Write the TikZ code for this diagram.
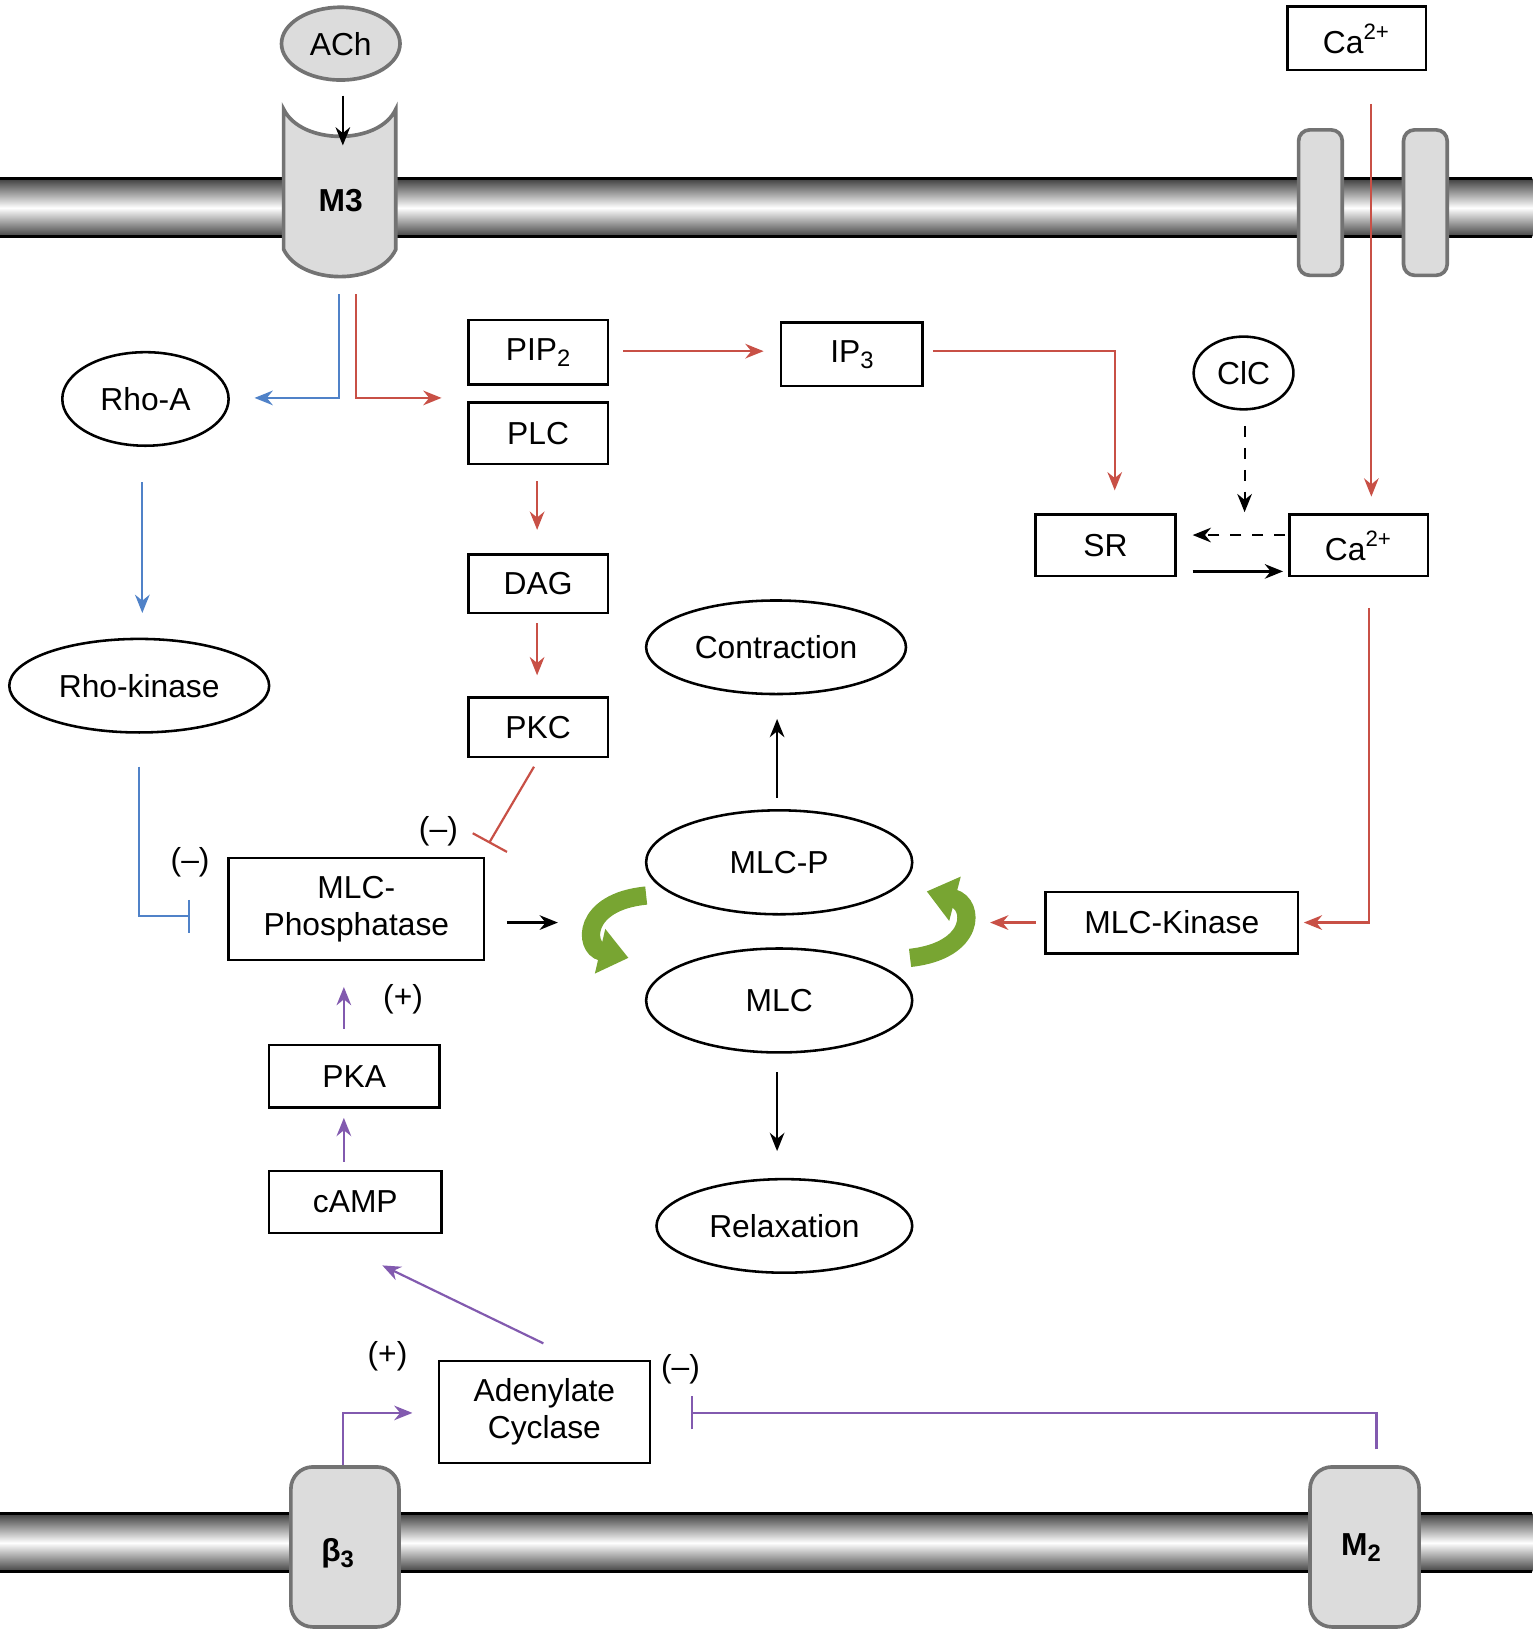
\documentclass[tikz,border=0pt]{standalone}
\usepackage{fontspec}
\setmainfont{Liberation Sans}
\usetikzlibrary{arrows.meta,shapes.geometric}
\definecolor{rd}{RGB}{200,80,70}
\definecolor{bl}{RGB}{80,130,200}
\definecolor{pu}{RGB}{130,90,175}
\definecolor{gr}{RGB}{120,165,50}
\definecolor{lg}{RGB}{220,220,220}
\newcommand{\sbs}[1]{\raisebox{-0.35ex}{\fontsize{6.5}{7}\selectfont #1}}
\begin{document}
\begin{tikzpicture}[x=0.01cm,y=-0.01cm,
  every node/.style={font=\fontsize{8.7}{10}\selectfont},
  bx/.style={draw,line width=0.7pt,rectangle,inner sep=0pt},
  el/.style={draw,line width=0.7pt,ellipse,inner sep=0pt},
  ar/.style={line width=0.6pt,-{Stealth[length=5pt,width=4pt]}},
  inh/.style={line width=0.6pt,-{Bar[width=9pt]}},
  lab/.style={font=\fontsize{8.7}{10}\selectfont}]
\useasboundingbox (0,0) rectangle (1475,1568);
% membranes
\foreach \y in {172,1457}{
  \shade[top color=black!75,bottom color=black!75,middle color=white] (0,\y) rectangle (1475,\y+56);
  \draw[line width=0.8pt] (0,\y)--(1475,\y) (0,\y+56)--(1475,\y+56);
}
% M3
\draw[fill=lg,draw=black!55,line width=1pt] (273,105) .. controls (290,140) and (365,140) .. (381,105) -- (381,240) .. controls (365,275) and (290,275) .. (273,240) -- cycle;
\node[font=\fontsize{8.7}{10}\selectfont\bfseries] (m3) at (328,193) {M3};
\node[el,fill=lg,draw=black!55,line width=1pt,minimum width=1.14cm,minimum height=0.7cm] (ach) at (328,42) {ACh};
\coordinate (achs) at (330,92); \coordinate (ache) at (330,140);
\draw[ar] (achs)--(ache);
% Ca channel
\draw[fill=lg,draw=black!55,line width=1pt,rounded corners=3pt] (1250,125) rectangle (1292,265);
\draw[fill=lg,draw=black!55,line width=1pt,rounded corners=3pt] (1351,125) rectangle (1393,265);
\node[bx,minimum width=1.33cm,minimum height=0.61cm] (catop) at (1306,37) {Ca\textsuperscript{2+}};
% beta3, M2
\draw[fill=lg,draw=black!55,line width=1pt,rounded corners=6pt] (280,1412) rectangle (384,1566);
\node[font=\fontsize{8.7}{10}\selectfont\bfseries] (b3) at (325,1495) {β\sbs{\bfseries 3}};
\draw[fill=lg,draw=black!55,line width=1pt,rounded corners=6pt] (1261,1412) rectangle (1366,1566);
\node[font=\fontsize{8.7}{10}\selectfont\bfseries] (m2) at (1310,1490) {M\sbs{\bfseries 2}};
% boxes
\node[bx,minimum width=1.34cm,minimum height=0.62cm] (pip2) at (518,339) {PIP\sbs{2}};
\node[bx,minimum width=1.36cm,minimum height=0.61cm] (ip3) at (820,341) {IP\sbs{3}};
\node[bx,minimum width=1.34cm,minimum height=0.59cm] (plc) at (518,417) {PLC};
\node[bx,minimum width=1.34cm,minimum height=0.56cm] (dag) at (518,562) {DAG};
\node[bx,minimum width=1.34cm,minimum height=0.57cm] (pkc) at (518,700) {PKC};
\node[bx,minimum width=1.35cm,minimum height=0.59cm] (sr) at (1064,525) {SR};
\node[bx,minimum width=1.33cm,minimum height=0.59cm] (ca) at (1308,525) {Ca\textsuperscript{2+}};
\node[bx,minimum width=2.46cm,minimum height=0.98cm,align=center] (mlcp) at (343,875) {MLC-\\Phosphatase};
\node[bx,minimum width=2.43cm,minimum height=0.59cm] (mlck) at (1128,888) {MLC-Kinase};
\node[bx,minimum width=1.64cm,minimum height=0.60cm] (pka) at (341,1036) {PKA};
\node[bx,minimum width=1.66cm,minimum height=0.60cm] (camp) at (342,1157) {cAMP};
\node[bx,minimum width=2.03cm,minimum height=0.98cm,align=center] (ac) at (524,1359) {Adenylate\\Cyclase};
% ellipses
\node[el,minimum width=1.6cm,minimum height=0.9cm] (rhoa) at (140,384) {Rho-A};
\node[el,minimum width=2.5cm,minimum height=0.9cm] (rhok) at (134,660) {Rho-kinase};
\node[el,minimum width=0.96cm,minimum height=0.7cm] (cic) at (1197,359) {ClC};
\node[el,minimum width=2.5cm,minimum height=0.9cm] (con) at (747,623) {Contraction};
\node[el,minimum width=2.56cm,minimum height=1.0cm] (mlcP) at (750,830) {MLC-P};
\node[el,minimum width=2.56cm,minimum height=1.0cm] (mlc) at (750,963) {MLC};
\node[el,minimum width=2.46cm,minimum height=0.9cm] (rel) at (755,1180) {Relaxation};
% red arrows
\draw[ar,rd] (343,283)--(343,383)--(425,383);
\draw[ar,bl] (326,283)--(326,383)--(245,383);
\draw[ar,rd] (600,338)--(735,338);
\draw[ar,rd] (898,338)--(1073,338)--(1073,472);
\draw[ar,rd] (1320,100)--(1320,478);
\draw[ar,rd] (517,463)--(517,510);
\draw[ar,rd] (517,600)--(517,650);
\draw[ar,rd] (1318,585)--(1318,888)--(1255,888);
\draw[ar,rd] (997,888)--(953,888);
\draw[line width=0.6pt,rd] (514,738)--(471,811);
\draw[line width=0.6pt,rd] (455,802)--(488,820);
% black
\draw[ar,dashed] (1198,410)--(1198,493);
\draw[ar,dashed] (1237,515)--(1148,515);
\draw[ar] (1148,550)--(1235,550);
\draw[ar] (488,888)--(537,888);
\draw[ar] (748,768)--(748,692);
\draw[ar] (748,1032)--(748,1108);
% blue
\draw[ar,bl] (137,464)--(137,590);
\draw[inh,bl] (134,738)--(134,882)--(183,882);
% purple
\draw[ar,pu] (331,990)--(331,950);
\draw[ar,pu] (331,1118)--(331,1076);
\draw[ar,pu] (523,1293)--(368,1218);
\draw[ar,pu] (330,1410)--(330,1360)--(397,1360);
\draw[inh,pu] (1325,1395)--(1325,1360)--(665,1360);
% labels
\node[lab] (l1) at (183,830) {(--)};
\node[lab] (l2) at (422,800) {(--)};
\node[lab] (l3) at (655,1318) {(--)};
\node[lab] (l4) at (388,962) {(+)};
\node[lab] (l5) at (373,1305) {(+)};
% green
\draw[gr,line width=5pt,-{Triangle[length=8pt,width=12pt]}] (622,862) .. controls (560,868) and (562,912) .. (605,922);
\draw[gr,line width=5pt,-{Triangle[length=8pt,width=12pt]}] (876,922) .. controls (940,915) and (938,870) .. (892,858);
\end{tikzpicture}
\end{document}
